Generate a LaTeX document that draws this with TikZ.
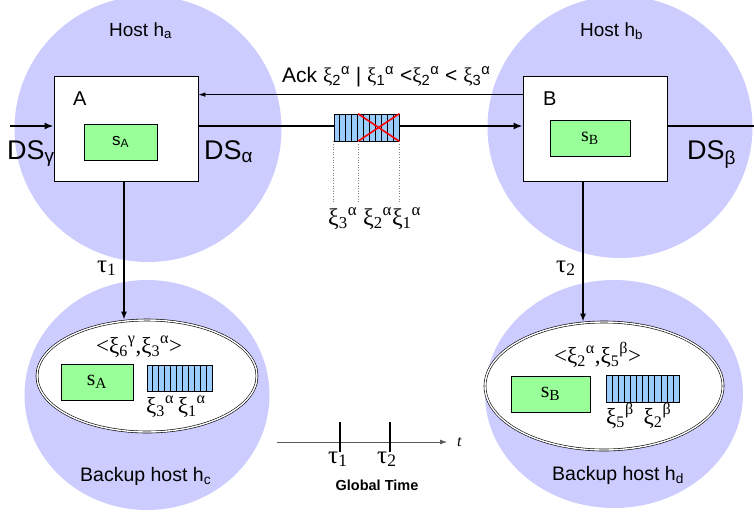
\documentclass[tikz,border=0pt]{standalone}
\usepackage{fontspec}
\setmainfont{Liberation Sans}
\newfontfamily\serif{Liberation Serif}
\usetikzlibrary{shapes.geometric,arrows.meta,calc}

\definecolor{hostblue}{RGB}{204,204,255}
\definecolor{stategreen}{RGB}{153,255,153}
\definecolor{queueblue}{RGB}{153,204,255}

\newcommand{\fs}[1]{\fontsize{#1}{#1}\selectfont}
% xi with subscript and superscript written one after the other
\newcommand{\xs}[2]{{\serif ξ}\textsubscript{#1}\textsuperscript{#2}}
\newcommand{\sxs}[2]{ξ\textsubscript{#1}\textsuperscript{#2}}

\tikzset{
  host/.style={ellipse, fill=hostblue, inner sep=0pt},
  proc/.style={rectangle, draw, fill=white, line width=0.8pt, inner sep=0pt},
  state/.style={rectangle, draw, fill=stategreen, line width=0.8pt, inner sep=0pt},
  queue/.style={rectangle, draw, fill=queueblue, line width=0.6pt, inner sep=0pt},
  backup/.style={ellipse, draw, double, double distance=1.4pt, fill=white, line width=0.6pt, inner sep=0pt},
  stream/.style={line width=2.4pt},
  streamarrow/.style={stream, -{Latex[length=9pt,width=7pt]}},
  ackarrow/.style={line width=0.7pt, -{Latex[length=7pt,width=4.5pt]}},
  ckpt/.style={line width=1.8pt, -{Latex[length=8pt,width=6pt]}},
  guide/.style={gray, dotted, line width=0.6pt},
  lbl/.style={inner sep=0pt, anchor=base west},
}

\newcommand{\cells}[2]{% queue node name, number of cells
  \foreach \i in {1,...,\numexpr#2-1\relax}
    \draw[line width=0.6pt] ($(#1.south west)!\i/#2!(#1.south east)$) -- ($(#1.north west)!\i/#2!(#1.north east)$);}

\begin{document}
\begin{tikzpicture}[x=1pt,y=-1pt]
\useasboundingbox (0,0) rectangle (754,514);

% hosts
\node[host, minimum width=267pt, minimum height=266pt] (ha) at (148,129) {};
\node[host, minimum width=265pt, minimum height=262pt] (hb) at (620,127) {};
\node[host, minimum width=245pt, minimum height=230pt] (hc) at (147,395) {};
\node[host, minimum width=258pt, minimum height=228pt] (hd) at (614,394) {};

\node[lbl] at (109,36) {\fs{19}Host h\textsubscript{a}};
\node[lbl] at (580,36) {\fs{19}Host h\textsubscript{b}};
\node[lbl] at (80,481) {\fs{19.5}Backup host h\textsubscript{c}};
\node[lbl] at (552,480) {\fs{19.5}Backup host h\textsubscript{d}};

% operators
\node[proc, minimum width=144pt, minimum height=105pt] (A) at (126,128.5) {};
\node[proc, minimum width=144pt, minimum height=105pt] (B) at (595,128.5) {};
\node[lbl] at (73,105) {\fs{20}A};
\node[lbl] at (543,105) {\fs{20}B};
\node[state, minimum width=73pt, minimum height=36pt] (sA) at (120.5,142) {\fs{17}s\textsubscript{A}};
\node[state, minimum width=80pt, minimum height=36pt] (sB) at (590,138) {\serif\fs{20}s\textsubscript{B}};

% data streams
\coordinate (dsin) at (10,126);
\coordinate (dsout) at (754,126);
\draw[streamarrow] (dsin) -- ([yshift=2.5pt]A.west);
\draw[streamarrow] ([yshift=2.5pt]A.east) -- ([yshift=2.5pt]B.west);
\draw[stream] ([yshift=2.5pt]B.east) -- (dsout);
\node[lbl] at (7,159) {\fs{27}DS\textsubscript{γ}};
\node[lbl] at (204,159) {\fs{27}DS\textsubscript{α}};
\node[lbl] at (687,159) {\fs{27}DS\textsubscript{β}};

% acknowledgement
\draw[ackarrow] ([yshift=-19pt]B.north west) -- ([yshift=-19pt]A.north east);
\node[lbl] at (282,82) {\fs{21}Ack \xs{2}{α} | \xs{1}{α} <\xs{2}{α} < \xs{3}{α}};

% output queue on the stream
\node[queue, minimum width=65pt, minimum height=27pt] (q) at (366.5,127.5) {};
\cells{q}{11}
\coordinate (qx) at ($(q.north west)!0.37!(q.north east)$);
\coordinate (qy) at ($(q.south west)!0.37!(q.south east)$);
\draw[red, line width=1.6pt] (qx) -- (q.south east);
\draw[red, line width=1.6pt] (qy) -- (q.north east);
\draw[guide] (q.south west) -- ++(0,61);
\draw[guide] (qy) -- ++(0,61);
\draw[guide] (q.south east) -- ++(0,61);
\node[lbl] at (328,225) {\serif\fs{24}\sxs{3}{α} \sxs{2}{α}\sxs{1}{α}};

% backups
\node[backup, minimum width=220pt, minimum height=112pt] (bc) at (147,376) {};
\node[backup, minimum width=238pt, minimum height=128pt] (bd) at (604,386) {};
\draw[ckpt] ([xshift=-2pt]A.south) -- ([xshift=-2pt]A.south |- bc.north);
\draw[ckpt] ([xshift=-12pt]B.south) -- ([xshift=-12pt]B.south |- bd.north);
\node[lbl] at (97,272) {\serif\fs{25}τ\textsubscript{1}};
\node[lbl] at (556,272) {\serif\fs{25}τ\textsubscript{2}};

\node[lbl] at (96,353) {\serif\fs{23}<\sxs{6}{γ},\sxs{3}{α}>};
\node[state, minimum width=72pt, minimum height=36pt] (bsA) at (97,382) {\serif\fs{22}s\textsubscript{A}};
\node[queue, minimum width=65pt, minimum height=26pt] (bqc) at (179.5,378) {};
\cells{bqc}{11}
\node[lbl] at (146,413) {\serif\fs{23}\sxs{3}{α}\hspace{4pt}\sxs{1}{α}};

\node[lbl] at (554,363) {\serif\fs{23}<\sxs{2}{α},\sxs{5}{β}>};
\node[state, minimum width=79pt, minimum height=36pt] (bsB) at (550.5,394) {\serif\fs{22}s\textsubscript{B}};
\node[queue, minimum width=73pt, minimum height=27pt] (bqd) at (642.5,388.5) {};
\cells{bqd}{12}
\node[lbl] at (606,424) {\serif\fs{23}\sxs{5}{β}\hspace{10pt}\sxs{2}{β}};

% global time axis
\coordinate (t0) at (277,442);
\coordinate (t1) at (447,442);
\coordinate (k1) at (340,442);
\coordinate (k2) at (390,442);
\draw[gray!70!black, line width=0.8pt, -{Latex[length=7pt,width=5pt]}] (t0) -- (t1);
\draw[line width=2pt] ([yshift=20pt]k1) -- ([yshift=-10pt]k1);
\draw[line width=2pt] ([yshift=20pt]k2) -- ([yshift=-10pt]k2);
\node[lbl] at (457,446) {\serif\itshape\fs{16}t};
\node[lbl] at (328,463) {\serif\fs{25}τ\textsubscript{1}};
\node[lbl] at (377,463) {\serif\fs{25}τ\textsubscript{2}};
\node[inner sep=0pt, anchor=base] at (377,490) {\bfseries\fs{14.5}Global Time};
\end{tikzpicture}
\end{document}
